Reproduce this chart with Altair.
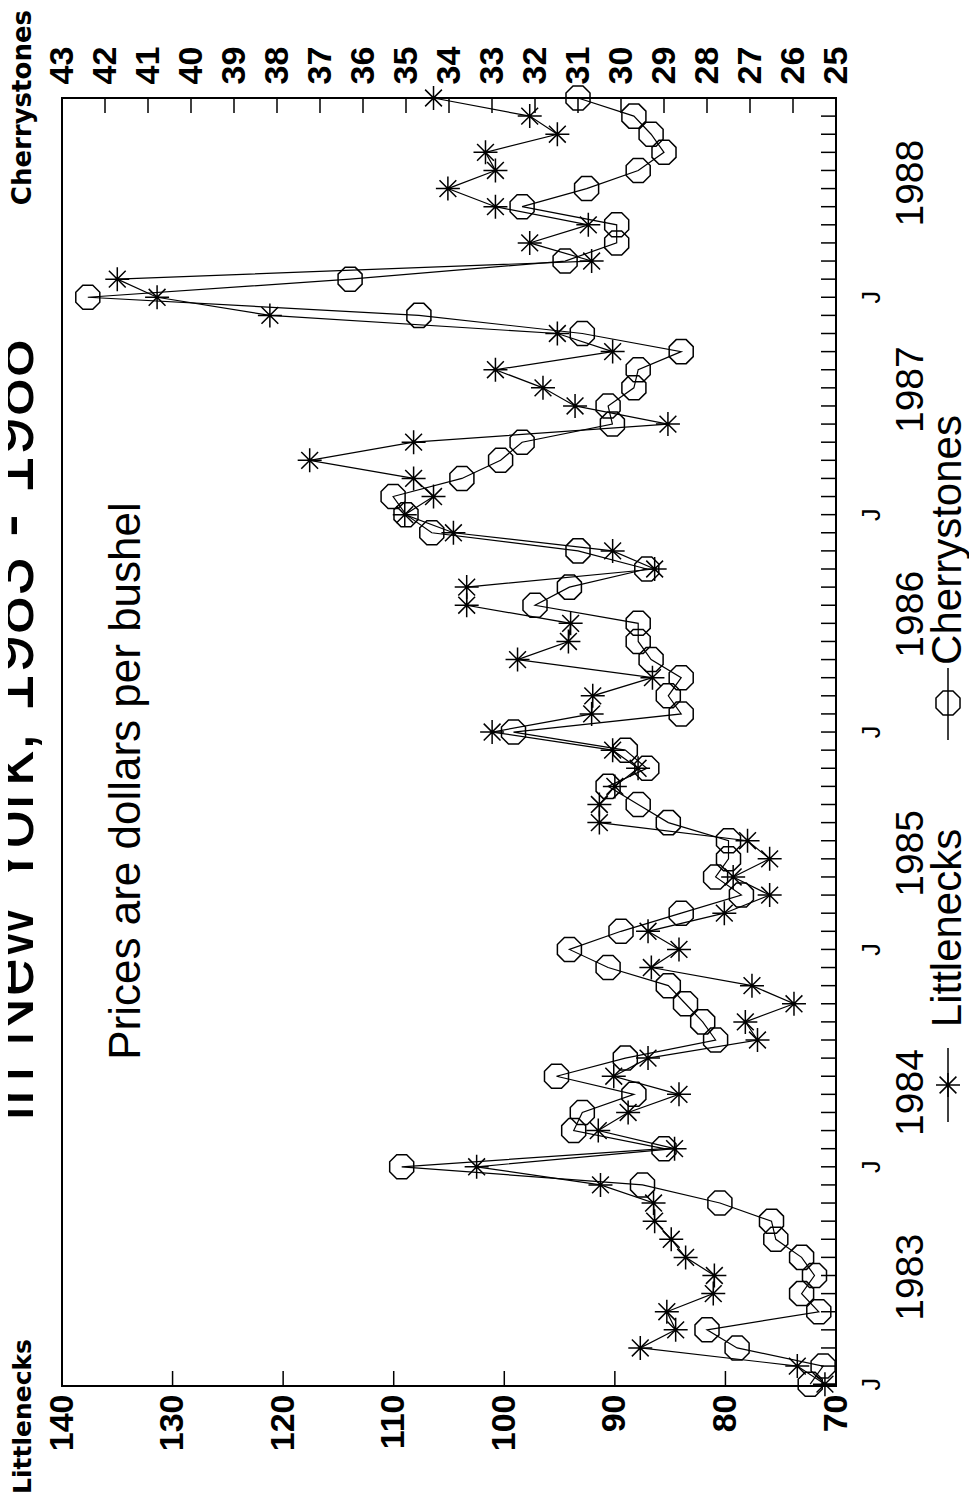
import altair as alt
import pandas as pd

# ---------------- data ----------------
month_index = list(range(72))          # Jan 1983 ... Dec 1988
littlenecks = [71.0, 73.5, 87.7, 84.5, 85.3, 81.1, 81.0, 83.6, 84.9, 86.4, 86.5, 91.3,
               102.5, 84.6, 91.5, 88.8, 84.2, 90.1, 87.0, 77.1, 78.2, 73.8, 77.6, 86.7,
               84.2, 87.0, 80.1, 76.0, 79.3, 76.0, 78.0, 91.4, 91.4, 90.0, 87.9, 90.2,
               101.1, 92.1, 92.0, 86.6, 98.8, 94.2, 94.0, 103.4, 103.4, 86.4, 90.2, 104.6,
               109.0, 106.4, 108.2, 117.6, 108.2, 85.2, 93.6, 96.5, 100.8, 90.2, 95.2, 121.2,
               131.4, 135.0, 92.1, 97.7, 92.4, 100.8, 105.1, 100.8, 101.7, 95.2, 97.7, 106.4]
cherrystones = [25.6, 25.3, 27.3, 28.0, 25.4, 25.8, 25.5, 25.8, 26.4, 26.5, 27.7, 29.5,
                35.1, 29.0, 31.1, 30.9, 29.7, 31.5, 29.9, 27.8, 28.1, 28.5, 28.9, 30.3,
                31.2, 30.0, 28.6, 27.2, 27.8, 27.5, 27.5, 28.9, 29.6, 30.3, 29.4, 29.9,
                32.5, 28.6, 28.9, 28.6, 29.3, 29.6, 29.6, 32.0, 31.2, 29.4, 31.0, 34.4,
                35.0, 35.3, 33.7, 32.8, 32.3, 30.2, 30.3, 29.7, 29.6, 28.6, 30.9, 34.7,
                42.4, 36.3, 31.3, 30.1, 30.1, 32.3, 30.8, 29.6, 29.0, 29.3, 29.7, 31.0]
ln_ticks = [70, 80, 90, 100, 110, 120, 130, 140]
cs_ticks = list(range(25, 44))
jan_positions = [0, 12, 24, 36, 48, 60]
year_labels = ["1983", "1984", "1985", "1986", "1987", "1988"]
year_label_pos = [5.9, 16.1, 29.3, 42.5, 54.9, 66.3]

# ---------------- layout ----------------
W, H = 774, 1288
FONT = "Liberation Sans"
STAR = "M-1,0L1,0M0,-1L0,1M-0.7,-0.7L0.7,0.7M-0.7,0.7L0.7,-0.7"
OCT = ("M0.383,-0.924L0.924,-0.383L0.924,0.383L0.383,0.924L-0.383,0.924"
       "L-0.924,0.383L-0.924,-0.383L-0.383,-0.924Z")

df = pd.DataFrame({"t": month_index, "ln": littlenecks, "cs": cherrystones})
ys = alt.Scale(domain=[-0.1, 71.0], nice=False, zero=False)
xs_ln = alt.Scale(domain=[70, 140], reverse=True, nice=False, zero=False)
xs_cs = alt.Scale(domain=[25, 43], reverse=True, nice=False, zero=False)
Y = alt.Y("t:Q", scale=ys, axis=None)

ax_ln = alt.Axis(orient="bottom", values=ln_ticks, title=None, ticks=False, domain=False,
                 grid=False, labelAngle=270, labelAlign="right", labelBaseline="middle",
                 labelPadding=8, labelFont=FONT, labelFontSize=34, labelFontWeight="bold",
                 labelColor="black")
ax_cs = alt.Axis(orient="top", values=cs_ticks, title=None, ticks=False, domain=False,
                 grid=False, labelAngle=270, labelAlign="left", labelBaseline="middle",
                 labelPadding=14, labelFont=FONT, labelFontSize=34, labelFontWeight="bold",
                 labelColor="black", labelOverlap=False)

base = alt.Chart(df)
ln_line = base.mark_line(color="black", strokeWidth=1.2).encode(
    x=alt.X("ln:Q", scale=xs_ln, axis=ax_ln), y=Y, order=alt.Order("t:Q"))
ln_pts = base.mark_point(shape=STAR, size=576, filled=False, stroke="black",
                         strokeWidth=1.5, opacity=1).encode(
    x=alt.X("ln:Q", scale=xs_ln, axis=None), y=Y)
cs_line = base.mark_line(color="black", strokeWidth=1.2).encode(
    x=alt.X("cs:Q", scale=xs_cs, axis=ax_cs), y=Y, order=alt.Order("t:Q"))
cs_pts = base.mark_point(shape=OCT, size=676, filled=False, stroke="black",
                         strokeWidth=1.5, opacity=1).encode(
    x=alt.X("cs:Q", scale=xs_cs, axis=None), y=Y)

# inward tick marks
t_ticks = alt.Chart(pd.DataFrame({"t": month_index})).mark_rule(color="black", strokeWidth=1.5).encode(
    y=Y, x=alt.value(W - 15), x2=alt.value(W))
ln_tick_marks = alt.Chart(pd.DataFrame({"v": ln_ticks[1:-1]})).mark_rule(color="black", strokeWidth=1.5).encode(
    x=alt.X("v:Q", scale=xs_ln, axis=None), y=alt.value(H - 15), y2=alt.value(H))
cs_tick_marks = alt.Chart(pd.DataFrame({"v": cs_ticks[1:-1]})).mark_rule(color="black", strokeWidth=1.5).encode(
    x=alt.X("v:Q", scale=xs_cs, axis=None), y=alt.value(0), y2=alt.value(15))

# time axis labels
j_text = alt.Chart(pd.DataFrame({"t": jan_positions, "lab": ["J"] * len(jan_positions)})).mark_text(
    angle=270, align="center", baseline="top", font=FONT, fontSize=25, color="black").encode(
    y=Y, x=alt.value(W + 24), text="lab:N")
yr_text = alt.Chart(pd.DataFrame({"t": year_label_pos, "lab": year_labels})).mark_text(
    angle=270, align="center", baseline="top", font=FONT, fontSize=39, color="black").encode(
    y=Y, x=alt.value(W + 56), text="lab:N")

# annotations
def label(txt, x, y, size, weight="normal", align="center", font=FONT):
    return alt.Chart(pd.DataFrame({"lab": [txt]})).mark_text(
        angle=270, align=align, baseline="alphabetic", font=font, fontSize=size,
        fontWeight=weight, color="black").encode(
        x=alt.value(x), y=alt.value(y), text="lab:N")

title = label("in New York, 1983 - 1988", -29, 632, 70)
note = label("Prices are dollars per bushel", 78, 683, 44)
ln_title = label("Littlenecks", -31, 1241, 25, "bold", "right", "DejaVu Sans")
cs_title = label("Cherrystones", -31, -88, 26, "bold", "right", "DejaVu Sans")
leg_ln_text = label("Littlenecks", 899, 830, 42)
leg_cs_text = label("Cherrystones", 899, 442, 42)

leg_ln_line = alt.Chart(pd.DataFrame({"k": [0]})).mark_rule(color="black", strokeWidth=1.5).encode(
    x=alt.value(886), y=alt.value(950), y2=alt.value(1024))
leg_cs_line = alt.Chart(pd.DataFrame({"k": [0]})).mark_rule(color="black", strokeWidth=1.5).encode(
    x=alt.value(886), y=alt.value(570), y2=alt.value(642))
leg_ln_sym = alt.Chart(pd.DataFrame({"k": [0]})).mark_point(
    shape=STAR, size=576, filled=False, stroke="black", strokeWidth=1.5, opacity=1).encode(
    x=alt.value(886), y=alt.value(987))
leg_cs_sym = alt.Chart(pd.DataFrame({"k": [0]})).mark_point(
    shape=OCT, size=676, filled=False, stroke="black", strokeWidth=1.5, opacity=1).encode(
    x=alt.value(886), y=alt.value(605))

chart = alt.layer(
    ln_line, cs_line, ln_pts, cs_pts, t_ticks, ln_tick_marks, cs_tick_marks,
    j_text, yr_text, title, note, ln_title, cs_title, leg_ln_text, leg_cs_text,
    leg_ln_line, leg_cs_line, leg_ln_sym, leg_cs_sym
).resolve_scale(x="independent").properties(
    width=W, height=H,
    autosize=alt.AutoSizeParams(type="none"),
    padding={"left": 54, "top": 90, "right": 133, "bottom": 116},
    background="white",
).configure_view(stroke="black", strokeWidth=2)

chart.save("out.html", embed_options={"renderer": "svg", "actions": False})
